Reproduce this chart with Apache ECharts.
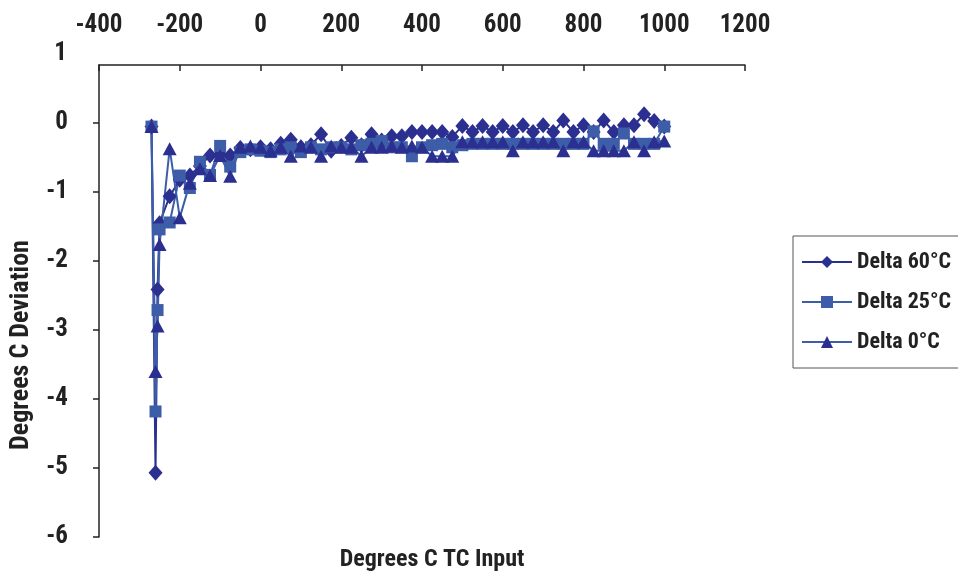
<!DOCTYPE html>
<html><head><meta charset="utf-8">
<script src="https://cdn.jsdelivr.net/npm/echarts@6/dist/echarts.min.js"></script>
<style>html,body{margin:0;padding:0;background:#fff}#c{width:958px;height:577px}</style>
</head><body><div id="c"></div>
<script>
const xInput = [-270,-260,-255,-250,-225,-200,-175,-150,-125,-100,-75,-50,-25,0,25,50,75,100,125,150,175,200,225,250,275,300,325,350,375,400,425,450,475,500,525,550,575,600,625,650,675,700,725,750,775,800,825,850,875,900,925,950,975,1000];
const delta60 = [-0.05,-5.07,-2.41,-1.45,-1.06,-0.82,-0.76,-0.62,-0.47,-0.45,-0.47,-0.36,-0.38,-0.35,-0.38,-0.30,-0.24,-0.35,-0.32,-0.16,-0.40,-0.33,-0.21,-0.32,-0.16,-0.25,-0.19,-0.19,-0.13,-0.13,-0.13,-0.13,-0.20,-0.04,-0.13,-0.04,-0.13,-0.04,-0.13,-0.03,-0.13,-0.03,-0.13,0.04,-0.13,-0.03,-0.13,0.04,-0.13,-0.03,-0.03,0.13,0.03,-0.05];
const delta25 = [-0.05,-4.18,-2.71,-1.54,-1.44,-0.76,-0.94,-0.56,-0.75,-0.33,-0.63,-0.42,-0.38,-0.40,-0.42,-0.38,-0.35,-0.42,-0.35,-0.38,-0.35,-0.35,-0.38,-0.32,-0.30,-0.26,-0.35,-0.35,-0.48,-0.35,-0.32,-0.30,-0.35,-0.32,-0.30,-0.30,-0.30,-0.30,-0.30,-0.30,-0.30,-0.30,-0.30,-0.30,-0.30,-0.30,-0.12,-0.30,-0.30,-0.15,-0.30,-0.30,-0.30,-0.05];
const delta0 = [-0.05,-3.60,-2.94,-1.76,-0.37,-1.37,-0.87,-0.66,-0.76,-0.47,-0.77,-0.35,-0.33,-0.35,-0.40,-0.35,-0.48,-0.33,-0.35,-0.48,-0.33,-0.35,-0.35,-0.48,-0.35,-0.35,-0.33,-0.35,-0.33,-0.35,-0.48,-0.48,-0.48,-0.27,-0.27,-0.27,-0.27,-0.27,-0.40,-0.27,-0.27,-0.27,-0.27,-0.40,-0.27,-0.27,-0.40,-0.40,-0.40,-0.40,-0.27,-0.40,-0.27,-0.26];
const seriesNames = ['Delta 60°C','Delta 25°C','Delta 0°C'];
const xTitle = 'Degrees C TC Input';
const yTitle = 'Degrees C Deviation';

const FF = "'Roboto Condensed','Liberation Sans Narrow','Liberation Sans',Arial,sans-serif";
const txt = {fontFamily: FF, fontWeight: 'bold', color: '#222'};
const pairs = v => xInput.map((x,i)=>[x, v[i]]);
const navy = '#2b2f8f', blue = '#3d5da8';
const plain = v => String(v);

const chart = echarts.init(document.getElementById('c'));
chart.setOption({
  animation: false,
  backgroundColor: '#fff',
  grid: [
    {left: 99, right: 213, top: 65, bottom: 33},
    {left: 99, right: 213, top: 54, bottom: 33},
    {left: 99, right: 213, top: 233, bottom: 120}
  ],
  legend: {
    orient: 'vertical', left: 793, top: 236,
    data: seriesNames,
    itemWidth: 50, itemHeight: 15, itemGap: 14,
    padding: [13, 30, 13, 8],
    borderColor: '#555', borderWidth: 1,
    textStyle: Object.assign({fontSize: 22, lineHeight: 26}, txt)
  },
  xAxis: [
    {gridIndex: 0, type: 'value', position: 'top', min: -400, max: 1200, interval: 200,
     axisLine: {onZero: false, lineStyle: {color: '#222', width: 1.5}},
     axisTick: {inside: true, length: 6, lineStyle: {color: '#222', width: 1.5}},
     splitLine: {show: false},
     axisLabel: Object.assign({fontSize: 25, margin: 27, formatter: plain}, txt)},
    {gridIndex: 0, type: 'value', position: 'bottom', min: -400, max: 1200,
     axisLine: {show: false}, axisTick: {show: false}, axisLabel: {show: false}, splitLine: {show: false},
     name: xTitle, nameLocation: 'middle', nameGap: 11,
     nameTextStyle: Object.assign({fontSize: 24, padding: [0,0,0,20]}, txt)},
    {gridIndex: 1, type: 'value', show: false},
    {gridIndex: 2, type: 'value', show: false}
  ],
  yAxis: [
    {gridIndex: 0, type: 'value', min: -6, max: 0.843, interval: 1,
     axisLine: {onZero: false, lineStyle: {color: '#222', width: 1.5}},
     axisTick: {length: 6, lineStyle: {color: '#222', width: 1.5}},
     splitLine: {show: false},
     axisLabel: Object.assign({fontSize: 25, margin: 31, showMaxLabel: false, formatter: plain}, txt)},
    {gridIndex: 1, type: 'value', min: -6, max: 1, interval: 1,
     axisLine: {show: false}, axisTick: {show: false}, splitLine: {show: false},
     axisLabel: Object.assign({fontSize: 25, margin: 32, formatter: v => v === 1 ? '1' : ''}, txt)},
    {gridIndex: 2, type: 'value', min: 0, max: 1,
     axisLine: {show: false}, axisTick: {show: false}, axisLabel: {show: false}, splitLine: {show: false},
     name: yTitle, nameLocation: 'middle', nameRotate: 90, nameGap: 69,
     nameTextStyle: Object.assign({fontSize: 26}, txt)}
  ],
  series: [
    {name: seriesNames[0], type: 'line', xAxisIndex: 0, yAxisIndex: 0, data: pairs(delta60),
     symbol: 'diamond', symbolSize: [14, 16], showAllSymbol: true,
     lineStyle: {color: navy, width: 2}, itemStyle: {color: navy}},
    {name: seriesNames[1], type: 'line', xAxisIndex: 0, yAxisIndex: 0, data: pairs(delta25),
     symbol: 'rect', symbolSize: 12, showAllSymbol: true,
     lineStyle: {color: blue, width: 2}, itemStyle: {color: blue}},
    {name: seriesNames[2], type: 'line', xAxisIndex: 0, yAxisIndex: 0, data: pairs(delta0),
     symbol: 'triangle', symbolSize: [14, 13], showAllSymbol: true,
     lineStyle: {color: blue, width: 2}, itemStyle: {color: navy}}
  ]
});
</script></body></html>
